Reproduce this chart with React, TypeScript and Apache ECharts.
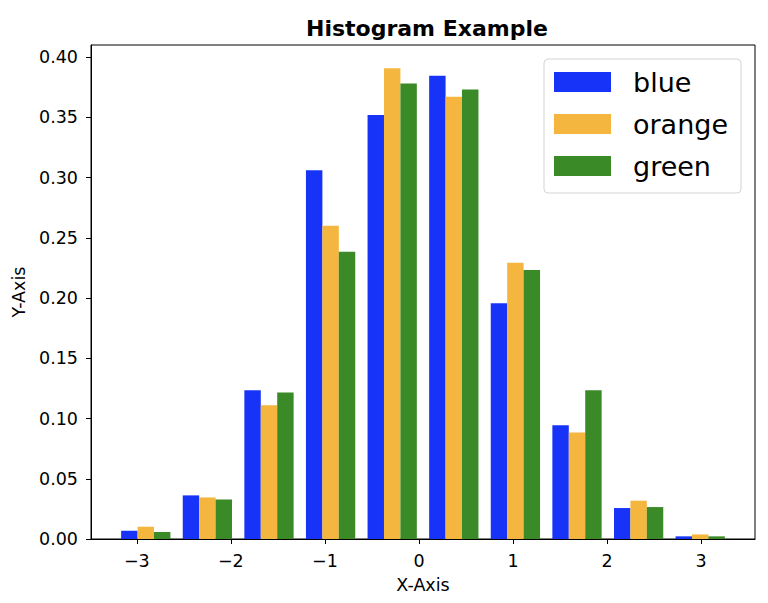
import React, { useEffect, useRef } from "react";
import * as echarts from "echarts";

// Histogram bin edges (x units) and densities per series
const binEdges = [-3.232, -2.577, -1.922, -1.267, -0.612, 0.043, 0.698, 1.353, 2.008, 2.663, 3.318];
const blueValues = [0.0069, 0.0362, 0.1235, 0.306, 0.352, 0.3844, 0.1957, 0.0945, 0.0257, 0.0022];
const orangeValues = [0.0102, 0.0345, 0.1111, 0.26, 0.3906, 0.367, 0.2293, 0.0884, 0.0318, 0.0038];
const greenValues = [0.0058, 0.0328, 0.1216, 0.2385, 0.3781, 0.3731, 0.2233, 0.1235, 0.0265, 0.0022];
const seriesNames = ["blue", "orange", "green"];
const seriesColors = ["#1733F8", "#F4B63F", "#3A8A27"];
const xTicks = [-3, -2, -1, 0, 1, 2, 3];
const yTicks = [0, 0.05, 0.1, 0.15, 0.2, 0.25, 0.3, 0.35, 0.4];

const FONT = "DejaVu Sans";

export default function App() {
  const ref = useRef<HTMLDivElement>(null);
  useEffect(() => {
    if (!ref.current) return;
    const chart = echarts.init(ref.current, null, { renderer: "svg" });
    const allValues = [blueValues, orangeValues, greenValues];
    const nSeries = allValues.length;
    const series = allValues.map((vals, s) => {
      const data = vals.map((v, i) => {
        const w = binEdges[i + 1] - binEdges[i];
        const bw = (w * 0.8) / nSeries;
        const x0 = binEdges[i] + w * 0.1 + s * bw;
        return [x0, x0 + bw, v];
      });
      return {
        type: "custom",
        name: seriesNames[s],
        itemStyle: { color: seriesColors[s] },
        encode: { x: [0, 1], y: 2 },
        clip: true,
        renderItem: (params: any, api: any) => {
          const p0 = api.coord([api.value(0), api.value(2)]);
          const p1 = api.coord([api.value(1), 0]);
          return {
            type: "rect",
            shape: { x: p0[0], y: p0[1], width: p1[0] - p0[0], height: p1[1] - p0[1] },
            style: { fill: seriesColors[s] },
          };
        },
        data,
      };
    });
    const minus = (v: number) => (v < 0 ? "\u2212" + Math.abs(v) : String(v));
    chart.setOption({
      animation: false,
      backgroundColor: "#fff",
      title: {
        text: "Histogram Example",
        left: 301,
        top: 12,
        textStyle: { fontFamily: FONT, fontWeight: "bold", fontSize: 22, color: "#000" },
      },
      legend: {
        orient: "vertical",
        left: 544,
        top: 59,
        icon: "rect",
        itemWidth: 57,
        itemHeight: 20,
        itemGap: 12,
        padding: [8, 13, 12, 10],
        backgroundColor: "#fff",
        borderColor: "#d4d4d4",
        borderWidth: 1,
        borderRadius: 4,
        textStyle: {
          fontFamily: FONT,
          fontSize: 27,
          color: "#000",
          lineHeight: 30,
          padding: [0, 0, 0, 17],
        },
        data: seriesNames,
      },
      grid: {
        left: 91,
        right: 13,
        top: 45,
        bottom: 64,
        show: true,
        borderColor: "#000",
        borderWidth: 1,
        backgroundColor: "transparent",
      },
      xAxis: {
        type: "value",
        min: -3.487,
        max: 3.573,
        name: "X-Axis",
        nameLocation: "middle",
        nameGap: 37,
        nameTextStyle: { fontFamily: FONT, fontSize: 17.5, color: "#000" },
        axisLine: { show: true, onZero: false, lineStyle: { color: "#000", width: 1 } },
        axisTick: { show: true, length: 5, customValues: xTicks, lineStyle: { color: "#000" } },
        axisLabel: {
          customValues: xTicks,
          formatter: (v: number) => minus(v),
          fontFamily: FONT,
          fontSize: 17.5,
          color: "#000",
          margin: 13,
        },
        splitLine: { show: false },
      },
      yAxis: {
        type: "value",
        min: 0,
        max: 0.41,
        name: "Y-Axis",
        nameLocation: "middle",
        nameGap: 61,
        nameTextStyle: { fontFamily: FONT, fontSize: 17.5, color: "#000" },
        axisLine: { show: true, onZero: false, lineStyle: { color: "#000", width: 1 } },
        axisTick: { show: true, length: 5, customValues: yTicks, lineStyle: { color: "#000" } },
        axisLabel: {
          customValues: yTicks,
          formatter: (v: number) => v.toFixed(2),
          fontFamily: FONT,
          fontSize: 17.5,
          color: "#000",
          margin: 13,
        },
        splitLine: { show: false },
      },
      series,
    });
    return () => chart.dispose();
  }, []);
  return (
    <div
      ref={ref}
      style={{ position: "fixed", left: 0, top: 0, width: 768, height: 603, background: "#fff" }}
    />
  );
}
